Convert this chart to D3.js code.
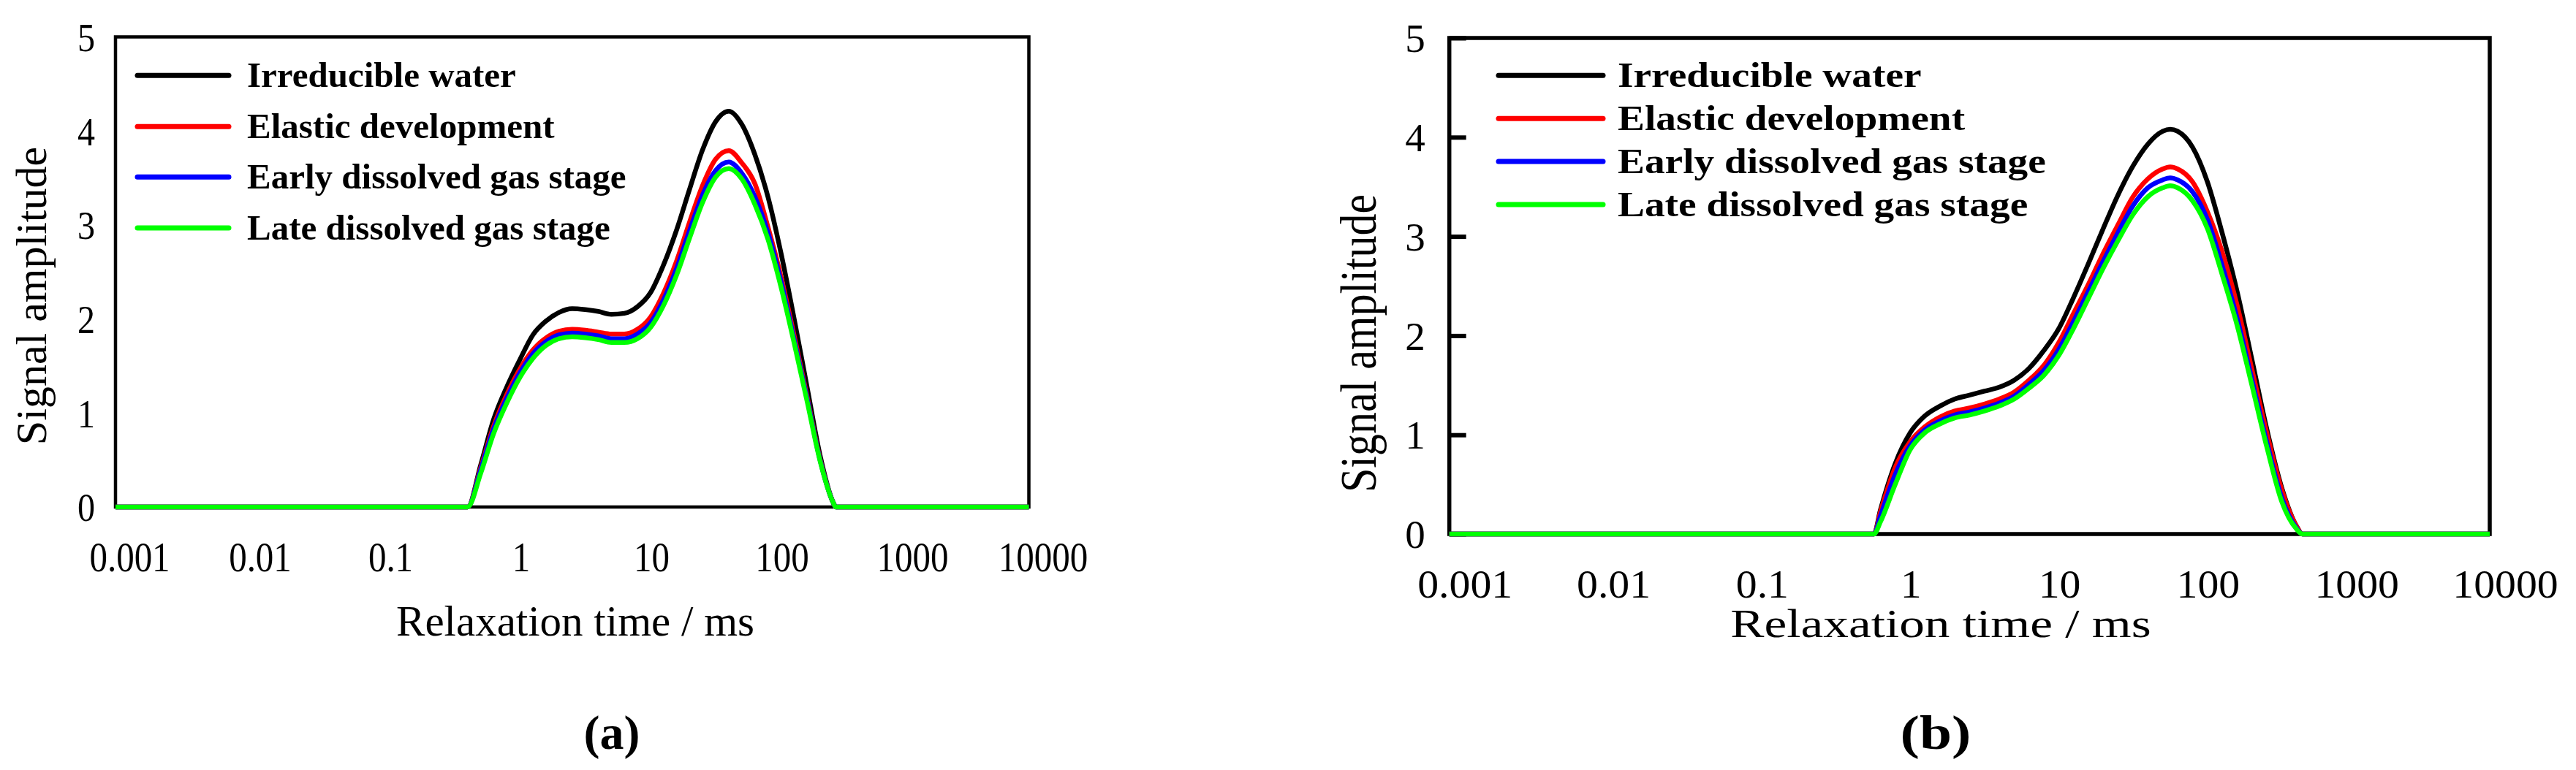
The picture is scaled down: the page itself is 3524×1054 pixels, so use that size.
<!DOCTYPE html>
<html>
<head>
<meta charset="utf-8">
<script src="https://cdn.jsdelivr.net/npm/d3@7"></script>
<style>
  body { margin: 0; background: #fff; }
  text { font-family: "Liberation Serif", "Times New Roman", serif; fill: #000; }
</style>
</head>
<body>
<div id="chart-area"></div>
<script>
// series names + colours (same in both panels)
var seriesNames = ["Irreducible water", "Elastic development", "Early dissolved gas stage", "Late dissolved gas stage"];
var seriesColors = ["#000000", "#ff0000", "#0000ff", "#00ff00"];

var xTicks = [0.001, 0.01, 0.1, 1, 10, 100, 1000, 10000];
var xTickLabels = ["0.001", "0.01", "0.1", "1", "10", "100", "1000", "10000"];
var yTicks = [0, 1, 2, 3, 4, 5];

// panel (a) - relaxation time (ms) and amplitudes
var t2A = [0.001, 0.5, 0.63, 0.79, 1, 1.26, 1.58, 2.0, 2.51, 3.16, 3.98, 5.01, 6.31, 7.94, 10,
  12.6, 15.8, 20.0, 25.1, 31.6, 39.8, 50.1, 63.1, 79.4, 100, 126, 158, 200, 251, 316, 331, 10000];
var irreducibleA = [0, 0, 0.45, 0.93, 1.28, 1.57, 1.83, 1.98, 2.07, 2.11, 2.10, 2.08, 2.05, 2.06, 2.13,
  2.28, 2.57, 2.95, 3.38, 3.80, 4.10, 4.21, 4.07, 3.75, 3.30, 2.70, 2.02, 1.27, 0.55, 0.05, 0, 0];
var elasticA = [0, 0, 0.42, 0.86, 1.20, 1.47, 1.67, 1.80, 1.87, 1.89, 1.88, 1.86, 1.84, 1.84, 1.89,
  2.02, 2.27, 2.62, 3.03, 3.42, 3.70, 3.79, 3.66, 3.44, 2.98, 2.45, 1.84, 1.17, 0.51, 0.05, 0, 0];
var earlyGasA = [0, 0, 0.40, 0.83, 1.16, 1.43, 1.63, 1.76, 1.83, 1.85, 1.84, 1.82, 1.79, 1.79, 1.84,
  1.96, 2.20, 2.54, 2.94, 3.32, 3.58, 3.67, 3.55, 3.30, 2.92, 2.40, 1.80, 1.15, 0.50, 0.05, 0, 0];
var lateGasA = [0, 0, 0.36, 0.78, 1.11, 1.38, 1.58, 1.72, 1.79, 1.81, 1.80, 1.78, 1.75, 1.75, 1.79,
  1.91, 2.14, 2.47, 2.86, 3.24, 3.51, 3.60, 3.49, 3.22, 2.85, 2.34, 1.76, 1.12, 0.49, 0.05, 0, 0];

// panel (b)
var t2B = [0.001, 0.72, 0.794, 1, 1.26, 1.58, 2.0, 2.51, 3.16, 3.98, 5.01, 6.31, 7.94, 10, 12.6, 15.8,
  20.0, 25.1, 31.6, 39.8, 50.1, 63.1, 70.8, 79.4, 100, 126, 158, 200, 251, 316, 398, 501, 550, 10000];
var irreducibleB = [0, 0, 0.24, 0.71, 1.02, 1.19, 1.29, 1.36, 1.40, 1.44, 1.48, 1.55, 1.67, 1.85, 2.07, 2.38,
  2.73, 3.08, 3.42, 3.71, 3.93, 4.06, 4.08, 4.06, 3.90, 3.55, 3.04, 2.44, 1.76, 1.06, 0.47, 0.08, 0, 0];
var elasticB = [0, 0, 0.22, 0.67, 0.93, 1.08, 1.18, 1.24, 1.27, 1.31, 1.36, 1.43, 1.55, 1.70, 1.93, 2.22,
  2.52, 2.83, 3.12, 3.40, 3.58, 3.68, 3.70, 3.68, 3.55, 3.25, 2.85, 2.30, 1.66, 1.02, 0.45, 0.08, 0, 0];
var earlyGasB = [0, 0, 0.18, 0.60, 0.89, 1.05, 1.14, 1.20, 1.23, 1.27, 1.32, 1.39, 1.51, 1.65, 1.86, 2.14,
  2.45, 2.75, 3.04, 3.31, 3.49, 3.57, 3.59, 3.57, 3.45, 3.17, 2.71, 2.17, 1.56, 0.93, 0.37, 0.06, 0, 0];
var lateGasB = [0, 0, 0.12, 0.50, 0.85, 1.02, 1.11, 1.17, 1.20, 1.24, 1.29, 1.36, 1.47, 1.60, 1.80, 2.07,
  2.38, 2.68, 2.96, 3.22, 3.40, 3.49, 3.51, 3.49, 3.36, 3.08, 2.62, 2.10, 1.50, 0.88, 0.33, 0.05, 0, 0];

var svg = d3.select("#chart-area").append("svg")
  .attr("width", 3524)
  .attr("height", 1054)
  .style("background", "#fff");

// layout of each panel (pixels)
var panelA = {
  left: 158, right: 1407.5, top: 50.5, bottom: 694, frameWidth: 4.5,
  t2: t2A, values: [irreducibleA, elasticA, earlyGasA, lateGasA],
  innerTicks: 0,
  yLabelGap: 28, yLabelSize: 48, yLabelScale: [1, 1.16],
  xLabelShift: 19, xLabelBase: 88, xLabelSize: 49, xLabelScale: [1, 1.16],
  xTitle: { x: 787, y: 870, size: 59, sx: 1 },
  yTitle: { x: 63, y: 405, size: 60, sy: 1 },
  legend: { x0: 188, x1: 313, ys: [103.3, 173.3, 242.3, 312], tx: 338, size: 49, sx: 1 },
  tag: { text: "(a)", x: 837, y: 1025, size: 66, sx: 1 }
};

var panelB = {
  left: 1982.7, right: 3406, top: 52, bottom: 731, frameWidth: 5.5,
  t2: t2B, values: [irreducibleB, elasticB, earlyGasB, lateGasB],
  innerTicks: 23,
  yLabelGap: 33, yLabelSize: 55, yLabelScale: [1, 1],
  xLabelShift: 21, xLabelBase: 87, xLabelSize: 55, xLabelScale: [1.05, 1],
  xTitle: { x: 2655, y: 872, size: 55, sx: 1.26 },
  yTitle: { x: 1882, y: 470, size: 60, sy: 1.17 },
  legend: { x0: 2050, x1: 2193, ys: [103.3, 162.3, 221, 280], tx: 2213, size: 49, sx: 1.13 },
  tag: { text: "(b)", x: 2648, y: 1025, size: 66, sx: 1.2 }
};

drawPanel(panelA);
drawPanel(panelB);

function drawPanel(p) {
  var x = d3.scaleLog().domain([0.001, 10000]).range([p.left, p.right]);
  var y = d3.scaleLinear().domain([0, 5]).range([p.bottom, p.top]);

  var g = svg.append("g");

  // frame
  g.append("rect")
    .attr("x", p.left)
    .attr("y", p.top)
    .attr("width", p.right - p.left)
    .attr("height", p.bottom - p.top)
    .attr("fill", "none")
    .attr("stroke", "#000")
    .attr("stroke-width", p.frameWidth);

  // Y axis
  var yAxisGroup = g.append("g")
    .attr("transform", "translate(" + p.left + ",0)")
    .call(d3.axisLeft(y).tickValues(yTicks).tickSize(-p.innerTicks).tickFormat(d3.format("d")));
  yAxisGroup.select(".domain").remove();
  yAxisGroup.selectAll(".tick line")
    .attr("stroke", "#000")
    .attr("stroke-width", p.innerTicks ? 6 : 0);
  yAxisGroup.selectAll(".tick text")
    .attr("x", 0)
    .attr("dy", "0.34em")
    .attr("text-anchor", "end")
    .attr("font-size", p.yLabelSize + "px")
    .attr("transform", "translate(" + (-p.yLabelGap) + ",0) scale(" + p.yLabelScale[0] + "," + p.yLabelScale[1] + ")");
  yAxisGroup.attr("font-family", null);

  // X axis
  var xAxisGroup = g.append("g")
    .attr("transform", "translate(0," + p.bottom + ")")
    .call(d3.axisBottom(x).tickValues(xTicks).tickSize(0)
      .tickFormat(function(d, i) { return xTickLabels[i]; }));
  xAxisGroup.select(".domain").remove();
  xAxisGroup.selectAll(".tick line").remove();
  xAxisGroup.selectAll(".tick text")
    .attr("y", 0)
    .attr("dy", null)
    .attr("text-anchor", "middle")
    .attr("font-size", p.xLabelSize + "px")
    .attr("transform", "translate(" + p.xLabelShift + "," + p.xLabelBase + ") scale(" + p.xLabelScale[0] + "," + p.xLabelScale[1] + ")");
  xAxisGroup.attr("font-family", null);

  // X Label
  g.append("text")
    .attr("text-anchor", "middle")
    .attr("font-size", p.xTitle.size + "px")
    .attr("transform", "translate(" + p.xTitle.x + "," + p.xTitle.y + ") scale(" + p.xTitle.sx + ",1)")
    .text("Relaxation time / ms");

  // Y Label
  g.append("text")
    .attr("text-anchor", "middle")
    .attr("font-size", p.yTitle.size + "px")
    .attr("transform", "translate(" + p.yTitle.x + "," + p.yTitle.y + ") rotate(-90) scale(1," + p.yTitle.sy + ")")
    .text("Signal amplitude");

  // curves
  var line = d3.line()
    .x(function(d) { return x(d[0]); })
    .y(function(d) { return y(d[1]); })
    .curve(d3.curveMonotoneX);

  p.values.forEach(function(vals, i) {
    var pts = p.t2.map(function(t, j) { return [t, vals[j]]; });
    g.append("path")
      .datum(pts)
      .attr("d", line)
      .attr("fill", "none")
      .attr("stroke", seriesColors[i])
      .attr("stroke-width", 6.5)
      .attr("stroke-linejoin", "round");
  });

  // legend
  seriesNames.forEach(function(name, i) {
    var ly = p.legend.ys[i];
    g.append("line")
      .attr("x1", p.legend.x0).attr("x2", p.legend.x1)
      .attr("y1", ly).attr("y2", ly)
      .attr("stroke", seriesColors[i])
      .attr("stroke-width", 7)
      .attr("stroke-linecap", "round");
    g.append("text")
      .attr("font-weight", "bold")
      .attr("font-size", p.legend.size + "px")
      .attr("transform", "translate(" + p.legend.tx + "," + (ly + 16) + ") scale(" + p.legend.sx + ",1)")
      .text(name);
  });

  // panel tag
  g.append("text")
    .attr("text-anchor", "middle")
    .attr("font-weight", "bold")
    .attr("font-size", p.tag.size + "px")
    .attr("transform", "translate(" + p.tag.x + "," + p.tag.y + ") scale(" + p.tag.sx + ",1)")
    .text(p.tag.text);
}
</script>
</body>
</html>
